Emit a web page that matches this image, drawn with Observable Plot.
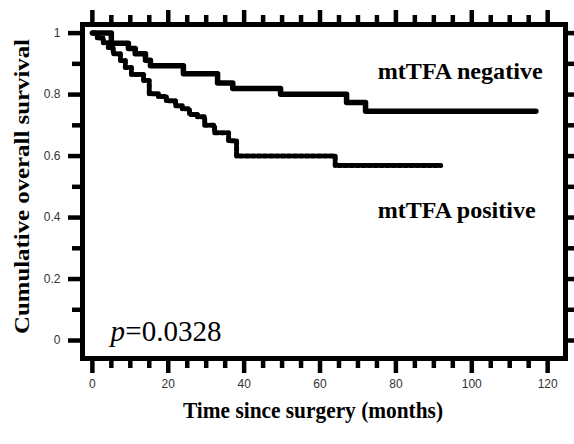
<!DOCTYPE html>
<html>
<head>
<meta charset="utf-8">
<script src="https://cdn.jsdelivr.net/npm/d3@7"></script>
<script src="https://cdn.jsdelivr.net/npm/@observablehq/plot@0.6"></script>
<style>
  html, body { margin: 0; padding: 0; background: #fff; }
</style>
</head>
<body>
<div id="chart"></div>
<script>
// ---- Data ----
// mtTFA negative (solid): times (months) where survival steps, and survival after each step
const negTime = [0, 5, 9.5, 11.3, 14, 15.3, 24, 33, 37, 49.6, 67, 72, 116.9];
const negSurv = [1, 0.967, 0.95, 0.933, 0.912, 0.894, 0.868, 0.838, 0.82, 0.801, 0.774, 0.746, 0.746];
// mtTFA positive (dotted)
const posTime = [0, 1.3, 2.9, 4.2, 5.5, 7.4, 8.7, 10.3, 13.5, 15, 17.4, 19.5, 21.9, 23.7, 25.6, 27.7, 29.6, 32.2, 35.9, 38, 64, 91.8];
const posSurv = [1, 0.984, 0.969, 0.953, 0.933, 0.911, 0.888, 0.865, 0.846, 0.803, 0.794, 0.78, 0.764, 0.754, 0.735, 0.728, 0.70, 0.676, 0.65, 0.60, 0.569, 0.569];

const seriesNames = ["mtTFA negative", "mtTFA positive"];
const pLabel = ["p", "=0.0328"];
const xTitle = "Time since surgery (months)";
const yTitle = "Cumulative overall survival";

const xMajor = [0, 20, 40, 60, 80, 100, 120];
const xMinor = d3.range(0, 125, 5).filter(d => d % 20 !== 0);
const yMajor = [0, 0.2, 0.4, 0.6, 0.8, 1];
const yMinor = [0.1, 0.3, 0.5, 0.7, 0.9];
const yRight = [0, 0.1, 0.2, 0.3, 0.4, 0.5, 0.6, 0.7, 0.8, 0.9, 1];

const neg = negTime.map((t, i) => ({t, s: negSurv[i]}));
const pos = posTime.map((t, i) => ({t, s: posSurv[i]}));

const serif = "'Liberation Serif', 'Times New Roman', serif";
const sans = "'Liberation Sans', Arial, sans-serif";
const blank = () => "";
const TW = 4.5; // tick stroke width

const chart = Plot.plot({
  width: 574,
  height: 444,
  marginLeft: 82,
  marginRight: 9,
  marginTop: 24,
  marginBottom: 86,
  style: {background: "#fff", color: "#000", fontFamily: sans, overflow: "visible"},
  x: {domain: [-2.6, 124.7], label: null},
  y: {domain: [-0.0585, 1.028], label: null},
  marks: [
    // axes ticks on all four sides
    Plot.axisX({anchor: "bottom", ticks: xMinor, tickSize: 10, strokeWidth: TW, tickFormat: blank, label: null}),
    Plot.axisX({anchor: "bottom", ticks: xMajor, tickSize: 15, strokeWidth: TW, tickPadding: 6, fontSize: 12, tickFormat: d => `${d}`, label: null}),
    Plot.axisX({anchor: "top", ticks: xMinor, tickSize: 10, strokeWidth: TW, tickFormat: blank, label: null}),
    Plot.axisX({anchor: "top", ticks: xMajor, tickSize: 15, strokeWidth: TW, tickFormat: blank, label: null}),
    Plot.axisY({anchor: "left", ticks: yMinor, tickSize: 10, strokeWidth: TW, tickFormat: blank, label: null}),
    Plot.axisY({anchor: "left", ticks: yMajor, tickSize: 14, strokeWidth: TW, tickPadding: 8, fontSize: 12, tickFormat: d => `${d}`, label: null}),
    Plot.axisY({anchor: "right", ticks: yRight, tickSize: 8, strokeWidth: TW, tickFormat: blank, label: null}),
    Plot.frame({stroke: "#000", strokeWidth: 5}),
    // survival curves
    Plot.line(pos, {x: "t", y: "s", curve: "step-after", stroke: "#000", strokeWidth: 5, strokeDasharray: "3.5,2.5"}),
    Plot.line(neg, {x: "t", y: "s", curve: "step-after", stroke: "#000", strokeWidth: 5.5}),
    // curve labels
    Plot.text([seriesNames[0]], {x: 75.2, y: 0.852, text: d => d, textAnchor: "start", lineAnchor: "bottom", fontFamily: serif, fontWeight: "bold", fontSize: 24}),
    Plot.text([seriesNames[1]], {x: 75.2, y: 0.40, text: d => d, textAnchor: "start", lineAnchor: "bottom", fontFamily: serif, fontWeight: "bold", fontSize: 24}),
    // p-value
    Plot.text([pLabel[0]], {x: 4.75, y: 0, text: d => d, textAnchor: "start", lineAnchor: "bottom", fontFamily: serif, fontStyle: "italic", fontSize: 29}),
    Plot.text([pLabel[1]], {x: 8.7, y: 0, text: d => d, textAnchor: "start", lineAnchor: "bottom", fontFamily: serif, fontSize: 29}),
    // axis titles
    Plot.text([xTitle], {frameAnchor: "bottom", dx: -11, dy: 59, text: d => d, lineAnchor: "bottom", fontFamily: serif, fontWeight: "bold", fontSize: 23}),
    Plot.text([yTitle], {frameAnchor: "left", dx: -60, dy: -5, rotate: -90, text: d => d, textAnchor: "middle", lineAnchor: "middle", fontFamily: serif, fontWeight: "bold", fontSize: 21})
  ]
});

// tick labels in dark grey
const svg = d3.select(chart);
svg.selectAll('g[aria-label$="tick label"]').attr("fill", "#333");
// stretch text lengths to match the reference's (vertically stretched) lettering
const fit = (str, len) => svg.selectAll("text").filter(function () { return this.textContent === str; })
  .attr("textLength", len).attr("lengthAdjust", "spacingAndGlyphs");
fit(xTitle, 260);
fit(yTitle, 295);
fit(seriesNames[0], 165);
fit(seriesNames[1], 158);

document.getElementById("chart").appendChild(chart);
</script>
</body>
</html>
